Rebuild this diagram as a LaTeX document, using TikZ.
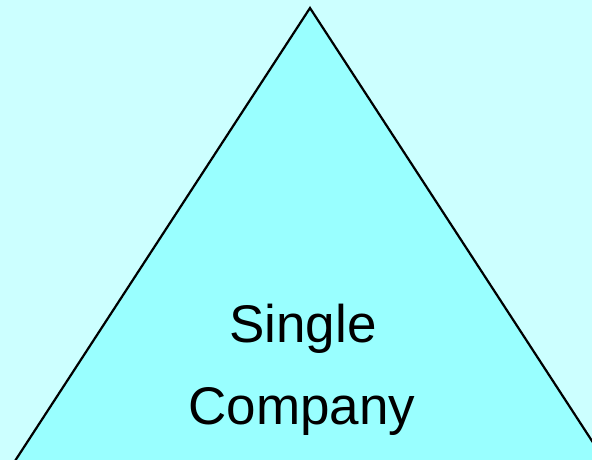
\documentclass[tikz,border=0pt]{standalone}
\usepackage{fontspec}
\setmainfont{Liberation Sans}
\definecolor{bgc}{HTML}{CCFFFF}
\definecolor{tric}{HTML}{99FFFF}
\begin{document}
\begin{tikzpicture}[x=1pt,y=-1pt,
  lbl/.style={font=\fontsize{53}{60}\selectfont, inner sep=0pt, anchor=base}]
\fill[bgc] (0,0) rectangle (592,460);
\useasboundingbox (0,0) rectangle (592,460);
\coordinate (apex) at (310,8);
\coordinate (bl) at (-30,530);
\coordinate (br) at (650,530);
\begin{scope}
\clip (0,0) rectangle (592,460);
\filldraw[fill=tric, draw=black, line width=2.2pt, line join=miter] (apex) -- (br) -- (bl) -- cycle;
\end{scope}
\node[lbl] (single) at (303,342) {Single};
\node[lbl] (company) at (302,424) {Company};
\end{tikzpicture}
\end{document}
